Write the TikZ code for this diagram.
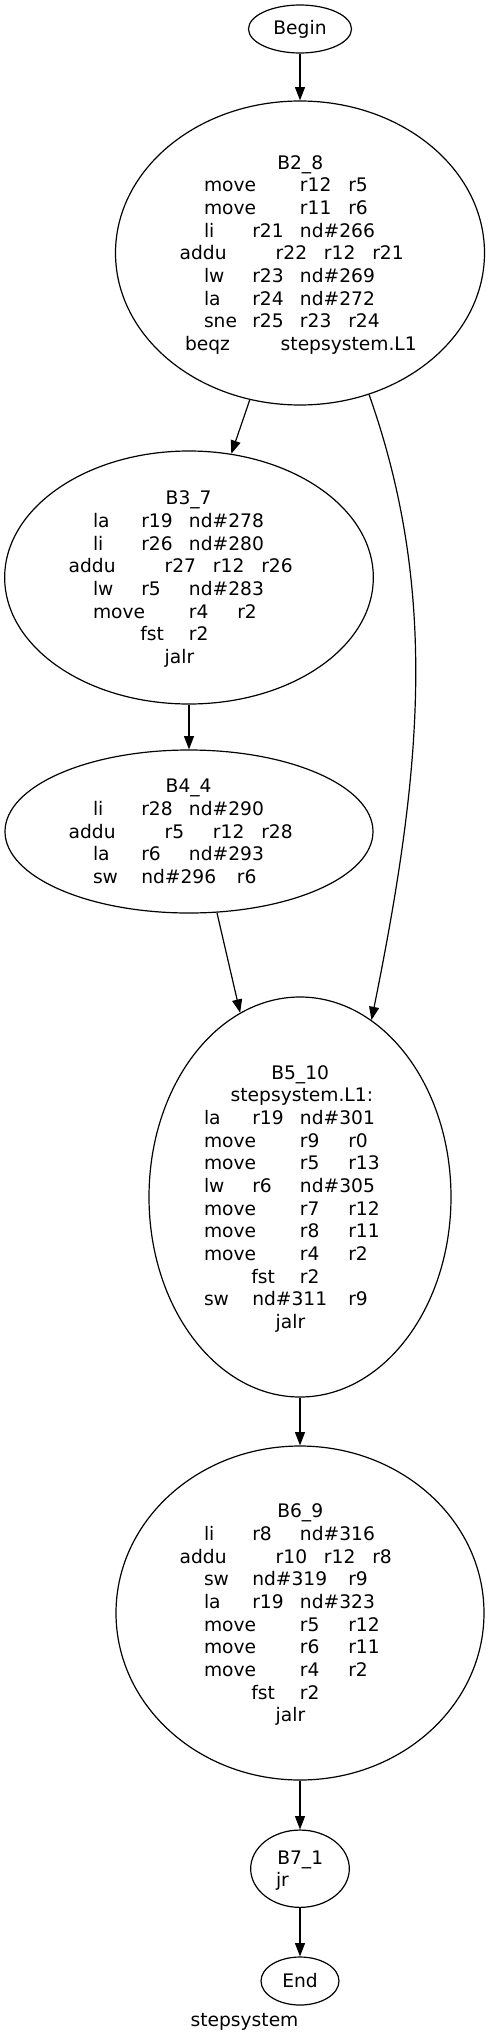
\documentclass[tikz,border=0pt]{standalone}
\usepackage{fontspec}
\setmainfont{DejaVu Sans}
\usetikzlibrary{shapes.geometric,arrows.meta}
\newcommand\tk[2]{\rlap{\hskip\dimexpr (#1pt - 1pt)*3/4\relax #2}}
\newcommand\tline[1]{\hbox to 0pt{\vrule height 13.6pt depth 3.4pt width 0pt#1\hss}}
\newcommand\tblock[1]{\vbox{\offinterlineskip #1}}
\tikzset{
  blk/.style={draw, ellipse, inner sep=0pt, line width=0.9pt, font=\fontsize{14pt}{17pt}\selectfont},
  txt/.style={inner sep=0pt, font=\fontsize{14pt}{17pt}\selectfont},
  arr/.style={draw, line width=0.9pt, -{Triangle[length=10pt,width=7.5pt]}},
}
\begin{document}
\begin{tikzpicture}[x=0.75pt,y=-0.75pt]
\useasboundingbox (0,0) rectangle (489,2044);
\fill[white] (0,0) rectangle (489,2044);

\node[blk, minimum width=77.25pt, minimum height=36pt] (begin) at (300,29) {Begin};
\node[blk, minimum width=276.75pt, minimum height=228pt] (b28) at (300,253) {};
\node[blk, minimum width=276.5pt, minimum height=189.75pt] (b37) at (189,577.5) {};
\node[blk, minimum width=276pt, minimum height=122.25pt] (b44) at (189,831.5) {};
\node[blk, minimum width=226.5pt, minimum height=300pt] (b510) at (300,1197) {};
\node[blk, minimum width=276pt, minimum height=250.5pt] (b69) at (300,1613) {};
\node[blk, minimum width=74pt, minimum height=58pt] (b71) at (300,1868.7) {};
\node[blk, minimum width=58.5pt, minimum height=36pt] (endn) at (300,1981) {End};

\node[txt] (b28t) at (b28) {\tblock{%
\tline{\tk{-21.7}{B2\_8}}
\tline{\tk{-95}{move}\tk{1}{r12}\tk{49.3}{r5}}
\tline{\tk{-95}{move}\tk{1}{r11}\tk{49.3}{r6}}
\tline{\tk{-95}{li}\tk{-46.7}{r21}\tk{1}{nd\#266}}
\tline{\tk{-119.3}{addu}\tk{-23.3}{r22}\tk{25}{r12}\tk{73.3}{r21}}
\tline{\tk{-95}{lw}\tk{-46.7}{r23}\tk{1}{nd\#269}}
\tline{\tk{-95}{la}\tk{-46.7}{r24}\tk{1}{nd\#272}}
\tline{\tk{-95}{sne}\tk{-46.7}{r25}\tk{1}{r23}\tk{49.3}{r24}}
\tline{\tk{-114}{beqz}\tk{-18.3}{stepsystem.L1}}}};

\node[txt] (b37t) at (b37) {\tblock{%
\tline{\tk{-22.3}{B3\_7}}
\tline{\tk{-95}{la}\tk{-46.7}{r19}\tk{1}{nd\#278}}
\tline{\tk{-95}{li}\tk{-46.7}{r26}\tk{1}{nd\#280}}
\tline{\tk{-119.3}{addu}\tk{-23.3}{r27}\tk{25}{r12}\tk{73.3}{r26}}
\tline{\tk{-95}{lw}\tk{-46.7}{r5}\tk{1}{nd\#283}}
\tline{\tk{-95}{move}\tk{1}{r4}\tk{49.3}{r2}}
\tline{\tk{-47.7}{fst}\tk{1}{r2}}
\tline{\tk{-23.3}{jalr}}}};

\node[txt] (b44t) at (b44) {\tblock{%
\tline{\tk{-22.3}{B4\_4}}
\tline{\tk{-95}{li}\tk{-46.7}{r28}\tk{1}{nd\#290}}
\tline{\tk{-119.3}{addu}\tk{-23.3}{r5}\tk{25}{r12}\tk{73.3}{r28}}
\tline{\tk{-95}{la}\tk{-46.7}{r6}\tk{1}{nd\#293}}
\tline{\tk{-95}{sw}\tk{-46.7}{nd\#296}\tk{49}{r6}}}};

\node[txt] (b510t) at (b510) {\tblock{%
\tline{\tk{-27.7}{B5\_10}}
\tline{\tk{-68.3}{stepsystem.L1:}}
\tline{\tk{-95}{la}\tk{-46.7}{r19}\tk{1}{nd\#301}}
\tline{\tk{-95}{move}\tk{1}{r9}\tk{49.3}{r0}}
\tline{\tk{-95}{move}\tk{1}{r5}\tk{49.3}{r13}}
\tline{\tk{-95}{lw}\tk{-46.7}{r6}\tk{1}{nd\#305}}
\tline{\tk{-95}{move}\tk{1}{r7}\tk{49.3}{r12}}
\tline{\tk{-95}{move}\tk{1}{r8}\tk{49.3}{r11}}
\tline{\tk{-95}{move}\tk{1}{r4}\tk{49.3}{r2}}
\tline{\tk{-47.7}{fst}\tk{1}{r2}}
\tline{\tk{-95}{sw}\tk{-46.7}{nd\#311}\tk{49.3}{r9}}
\tline{\tk{-23.3}{jalr}}}};

\node[txt] (b69t) at (b69) {\tblock{%
\tline{\tk{-21.7}{B6\_9}}
\tline{\tk{-95}{li}\tk{-46.7}{r8}\tk{1}{nd\#316}}
\tline{\tk{-119.3}{addu}\tk{-23.3}{r10}\tk{25}{r12}\tk{73.3}{r8}}
\tline{\tk{-95}{sw}\tk{-46.7}{nd\#319}\tk{49.3}{r9}}
\tline{\tk{-95}{la}\tk{-46.7}{r19}\tk{1}{nd\#323}}
\tline{\tk{-95}{move}\tk{1}{r5}\tk{49.3}{r12}}
\tline{\tk{-95}{move}\tk{1}{r6}\tk{49.3}{r11}}
\tline{\tk{-95}{move}\tk{1}{r4}\tk{49.3}{r2}}
\tline{\tk{-47.7}{fst}\tk{1}{r2}}
\tline{\tk{-23.3}{jalr}}}};

\node[txt] (b71t) at (b71) {\tblock{%
\tline{\tk{-21.7}{B7\_1}}
\tline{\tk{-23}{jr}}}};

\node[txt] (glabel) at (244.5,2022) {stepsystem};

\draw[arr] (begin) -- (b28);
\draw[arr] (b28) -- (b37);
\draw[arr] (b28.-64.4) .. controls (439.6,594) and (421,775) .. (b510.68.6);
\draw[arr] (b37) -- (b44);
\draw[arr] (b44.-71) -- (b510.108.6);
\draw[arr] (b510) -- (b69);
\draw[arr] (b69) -- (b71);
\draw[arr] (b71) -- (endn);
\end{tikzpicture}
\end{document}
